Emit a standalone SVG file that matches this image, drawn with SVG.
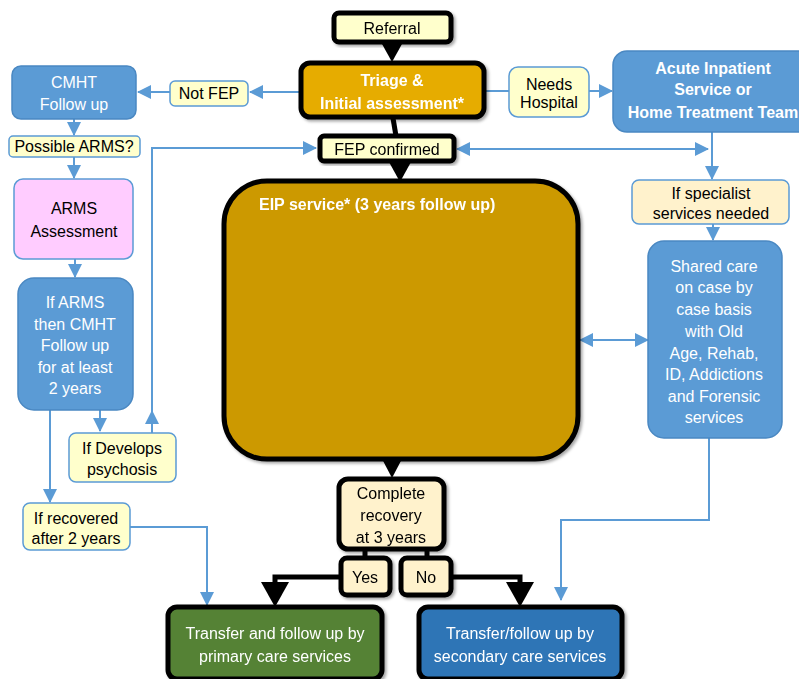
<svg xmlns="http://www.w3.org/2000/svg" width="799" height="679" viewBox="0 0 799 679">
<defs>
<style>
text{font-family:"Liberation Sans",Arial,sans-serif;font-size:16px;text-anchor:middle;dominant-baseline:central;fill:#000}
.w{fill:#fff}
.b{font-weight:bold}
.ly{fill:#FFFFCC;stroke:#5B9BD5;stroke-width:1.5}
.pe{fill:#FFF2CC;stroke:#5B9BD5;stroke-width:1.5}
.bl{fill:#5B9BD5;stroke:#4A88C2;stroke-width:1.5}
.pk{fill:#FFCCFF;stroke:#5B9BD5;stroke-width:1.5}
.thick{stroke:#000;stroke-width:5}
.c{fill:none;stroke:#5B9BD5;stroke-width:2}
.k{fill:none;stroke:#000;stroke-width:5}
.kh{fill:#000}
.bh{fill:#5B9BD5}
</style>
<marker id="ba" viewBox="0 0 14 14" refX="13" refY="7" markerWidth="14" markerHeight="14" markerUnits="userSpaceOnUse" orient="auto-start-reverse">
<path d="M0,0 L14,7 L0,14 Z" fill="#5B9BD5"/>
</marker>
<filter id="sh" x="-10%" y="-10%" width="130%" height="130%">
<feDropShadow dx="2" dy="2" stdDeviation="1.5" flood-color="#000" flood-opacity="0.35"/>
</filter>
</defs>

<g id="connectors">
<polygon class="kh" points="382,44 402,44 392,62"/>
<line class="k" x1="393" y1="118" x2="396" y2="136" stroke-width="4"/>
<polygon class="kh" points="389,162 411,162 400,182"/>
<line class="c" x1="300" y1="92" x2="250" y2="92" marker-end="url(#ba)"/>
<line class="c" x1="170" y1="92" x2="138" y2="92" marker-end="url(#ba)"/>
<line class="c" x1="74" y1="119" x2="74" y2="135" marker-end="url(#ba)"/>
<line class="c" x1="74" y1="157" x2="74" y2="178" marker-end="url(#ba)"/>
<line class="c" x1="75" y1="259" x2="75" y2="277" marker-end="url(#ba)"/>
<line class="c" x1="100" y1="410" x2="100" y2="431" marker-end="url(#ba)"/>
<path class="c" d="M152,433 V148 H316" marker-end="url(#ba)"/>
<polygon class="bh" points="145,424 159,424 152,410"/>
<line class="c" x1="50" y1="410" x2="50" y2="502" marker-end="url(#ba)"/>
<path class="c" d="M130,527 H207 V605" marker-end="url(#ba)"/>
<line class="c" x1="485" y1="91" x2="509" y2="91"/>
<line class="c" x1="589" y1="91" x2="612" y2="91" marker-end="url(#ba)"/>
<line class="c" x1="457" y1="149" x2="708" y2="149" marker-start="url(#ba)" marker-end="url(#ba)"/>
<line class="c" x1="712" y1="132" x2="712" y2="179" marker-end="url(#ba)"/>
<line class="c" x1="713" y1="224" x2="713" y2="240" marker-end="url(#ba)"/>
<line class="c" x1="580" y1="340" x2="648" y2="340" marker-start="url(#ba)" marker-end="url(#ba)"/>
<path class="c" d="M709,438 V520 H561 V600" marker-end="url(#ba)"/>
<polygon class="kh" points="381,457 403,457 392,478"/>
<line class="k" x1="365" y1="549" x2="365" y2="558" stroke-width="4"/>
<line class="k" x1="427" y1="549" x2="427" y2="558" stroke-width="4"/>
<path class="k" d="M341,577 H275 V585"/>
<polygon class="kh" points="261,582 289,582 275,607"/>
<path class="k" d="M452,577 H520 V585"/>
<polygon class="kh" points="506,582 534,582 520,607"/>
</g>

<g id="referral" filter="url(#sh)">
<rect x="334" y="13" width="117" height="29" rx="5" fill="#FFFFCC" class="thick"/>
<text x="392" y="28">Referral</text>
</g>

<g id="triage" filter="url(#sh)">
<rect x="301" y="63" width="183" height="54" rx="9" fill="#E6AC00" class="thick"/>
<text x="392" y="80" class="w b" font-size="18.5">Triage &amp;</text>
<text x="392" y="103" class="w b" font-size="18.5">Initial assessment*</text>
</g>

<g id="not-fep">
<rect x="170" y="81" width="78" height="25" rx="5" class="ly"/>
<text x="209" y="93" font-size="14">Not FEP</text>
</g>

<g id="cmht">
<rect x="12" y="66" width="124" height="53" rx="9" class="bl"/>
<text x="74" y="82" class="w">CMHT</text>
<text x="74" y="104" class="w">Follow up</text>
</g>

<g id="possible-arms">
<rect x="9" y="136" width="131" height="21" rx="4" class="ly"/>
<text x="74" y="146" font-size="14">Possible ARMS?</text>
</g>

<g id="arms-assessment">
<rect x="14" y="179" width="119" height="80" rx="9" class="pk"/>
<text x="74" y="208">ARMS</text>
<text x="74" y="231">Assessment</text>
</g>

<g id="if-arms">
<rect x="18" y="278" width="115" height="132" rx="16" class="bl"/>
<text x="75" y="302" class="w">If ARMS</text>
<text x="75" y="324" class="w">then CMHT</text>
<text x="75" y="345" class="w">Follow up</text>
<text x="75" y="367" class="w">for at least</text>
<text x="75" y="388" class="w">2 years</text>
</g>

<g id="if-develops">
<rect x="69" y="433" width="107" height="49" rx="7" class="ly"/>
<text x="122" y="448">If Develops</text>
<text x="122" y="469">psychosis</text>
</g>

<g id="if-recovered">
<rect x="23" y="503" width="107" height="47" rx="7" class="ly"/>
<text x="76" y="518" font-size="14.5">If recovered</text>
<text x="76" y="538" font-size="14.5">after 2 years</text>
</g>

<g id="fep-confirmed" filter="url(#sh)">
<rect x="320" y="136" width="134" height="25" rx="4" fill="#FFFFCC" class="thick"/>
<text x="387" y="149">FEP confirmed</text>
</g>

<g id="needs-hospital">
<rect x="509" y="67" width="80" height="50" rx="9" class="ly"/>
<text x="549" y="84" font-size="13">Needs</text>
<text x="549" y="102" font-size="13">Hospital</text>
</g>

<g id="acute">
<rect x="613" y="51" width="200" height="81" rx="14" class="bl"/>
<text x="713" y="68" class="w b" font-size="16.5">Acute Inpatient</text>
<text x="713" y="89" class="w b" font-size="16.5">Service or</text>
<text x="713" y="112" class="w b" font-size="16.5">Home Treatment Team</text>
</g>

<g id="eip" filter="url(#sh)">
<rect x="224" y="181" width="354" height="278" rx="43" fill="#CC9900" class="thick"/>
<text x="259" y="204" class="w b" font-size="19" style="text-anchor:start">EIP service* (3 years follow up)</text>
</g>

<g id="if-specialist">
<rect x="632" y="180" width="157" height="44" rx="7" class="pe"/>
<text x="711" y="193">If specialist</text>
<text x="711" y="213">services needed</text>
</g>

<g id="shared-care">
<rect x="648" y="241" width="134" height="197" rx="16" class="bl"/>
<text x="714" y="266" class="w">Shared care</text>
<text x="714" y="287" class="w">on case by</text>
<text x="714" y="309" class="w">case basis</text>
<text x="714" y="331" class="w">with  Old</text>
<text x="714" y="353" class="w">Age, Rehab,</text>
<text x="714" y="374" class="w">ID, Addictions</text>
<text x="714" y="396" class="w">and Forensic</text>
<text x="714" y="417" class="w">services</text>
</g>

<g id="complete-recovery" filter="url(#sh)">
<rect x="339" y="479" width="105" height="70" rx="9" fill="#FFF2CC" class="thick"/>
<text x="391" y="493">Complete</text>
<text x="391" y="515">recovery</text>
<text x="391" y="537">at 3 years</text>
</g>

<g id="yes" filter="url(#sh)">
<rect x="341" y="558" width="49" height="37" rx="6" fill="#FFF2CC" class="thick"/>
<text x="365" y="577" font-size="15">Yes</text>
</g>

<g id="no" filter="url(#sh)">
<rect x="401" y="558" width="50" height="37" rx="6" fill="#FFF2CC" class="thick"/>
<text x="426" y="577" font-size="15">No</text>
</g>

<g id="primary" filter="url(#sh)">
<rect x="168" y="607" width="214" height="72" rx="9" fill="#548235" class="thick"/>
<text x="275" y="633" class="w" font-size="16.5">Transfer and follow up by</text>
<text x="275" y="656" class="w" font-size="16.5">primary care services</text>
</g>

<g id="secondary" filter="url(#sh)">
<rect x="419" y="607" width="203" height="72" rx="9" fill="#2E75B6" class="thick"/>
<text x="520" y="633" class="w" font-size="16.5">Transfer/follow up by</text>
<text x="520" y="656" class="w" font-size="16.5">secondary care services</text>
</g>
</svg>
